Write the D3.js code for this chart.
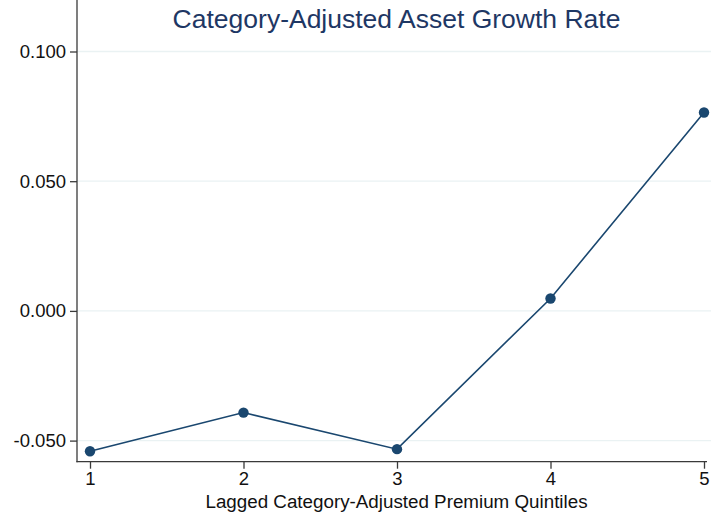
<!DOCTYPE html>
<html>
<head>
<meta charset="utf-8">
<script src="https://cdn.jsdelivr.net/npm/d3@7"></script>
<style>
  html, body { margin: 0; padding: 0; background: #fff; }
  svg { display: block; font-family: "Liberation Sans", Arial, sans-serif; }
</style>
</head>
<body>
<svg id="chart" width="711" height="518"></svg>
<script>
const quintiles = [1, 2, 3, 4, 5];
const growthValues = [-0.0541, -0.0392, -0.0533, 0.0048, 0.0765];
const yTickValues = [-0.05, 0, 0.05, 0.1];
const xTickValues = [1, 2, 3, 4, 5];
const titleText = "Category-Adjusted Asset Growth Rate";
const xLabelText = "Lagged Category-Adjusted Premium Quintiles";

const svg = d3.select("#chart");
const W = 711;
const plotLeft = 77, plotBottom = 461.7, plotRight = 707;

const x = d3.scaleLinear().domain([1, 5]).range([90, 704]);
const y = d3.scaleLinear().domain([-0.05, 0.1]).range([440.6, 51.5]);

const navy = "#1a476f";
const axisColor = "#3a3a3a";

// gridlines
svg.append("g").selectAll("line").data(yTickValues).join("line")
  .attr("x1", plotLeft).attr("x2", W)
  .attr("y1", d => y(d)).attr("y2", d => y(d))
  .attr("stroke", "#eaf2f3").attr("stroke-width", 1.3);

// y axis
const yAxis = d3.axisLeft(y).tickValues(yTickValues).tickFormat(d3.format(".3f")).tickSize(7).tickPadding(4);
const gy = svg.append("g").attr("transform", `translate(${plotLeft},0)`).call(yAxis);
gy.select(".domain").remove();
gy.append("line").attr("x1", 0).attr("x2", 0).attr("y1", 0).attr("y2", plotBottom + 0.6)
  .attr("stroke", axisColor).attr("stroke-width", 1.3);
gy.selectAll(".tick line").attr("stroke", axisColor).attr("stroke-width", 1.3);
gy.selectAll(".tick text").attr("font-size", "18.5px").attr("fill", "#111")
  .attr("font-family", "Liberation Sans, Arial, sans-serif")
  .text(d => d3.format(".3f")(d).replace("−", "-"));

// x axis
const xAxis = d3.axisBottom(x).tickValues(xTickValues).tickFormat(d3.format("d")).tickSize(7).tickPadding(3);
const gx = svg.append("g").attr("transform", `translate(0,${plotBottom})`).call(xAxis);
gx.select(".domain").remove();
gx.append("line").attr("x1", plotLeft - 0.6).attr("x2", plotRight).attr("y1", 0).attr("y2", 0)
  .attr("stroke", axisColor).attr("stroke-width", 1.3);
gx.selectAll(".tick line").attr("stroke", axisColor).attr("stroke-width", 1.3);
gx.selectAll(".tick text").attr("font-size", "18.5px").attr("fill", "#111")
  .attr("font-family", "Liberation Sans, Arial, sans-serif");

// line
const data = quintiles.map((q, i) => ({ q, v: growthValues[i] }));
svg.append("path").datum(data)
  .attr("fill", "none").attr("stroke", navy).attr("stroke-width", 1.6)
  .attr("d", d3.line().x(d => x(d.q)).y(d => y(d.v)));

svg.append("g").selectAll("circle").data(data).join("circle")
  .attr("cx", d => x(d.q)).attr("cy", d => y(d.v)).attr("r", 5.2)
  .attr("fill", navy);

// title
svg.append("text").attr("x", 396.5).attr("y", 28).attr("text-anchor", "middle")
  .attr("font-size", "26.5px").attr("fill", "#1e3764").text(titleText);

// x label
svg.append("text").attr("x", 396.5).attr("y", 508).attr("text-anchor", "middle")
  .attr("font-size", "18.8px").attr("fill", "#111").text(xLabelText);
</script>
</body>
</html>
